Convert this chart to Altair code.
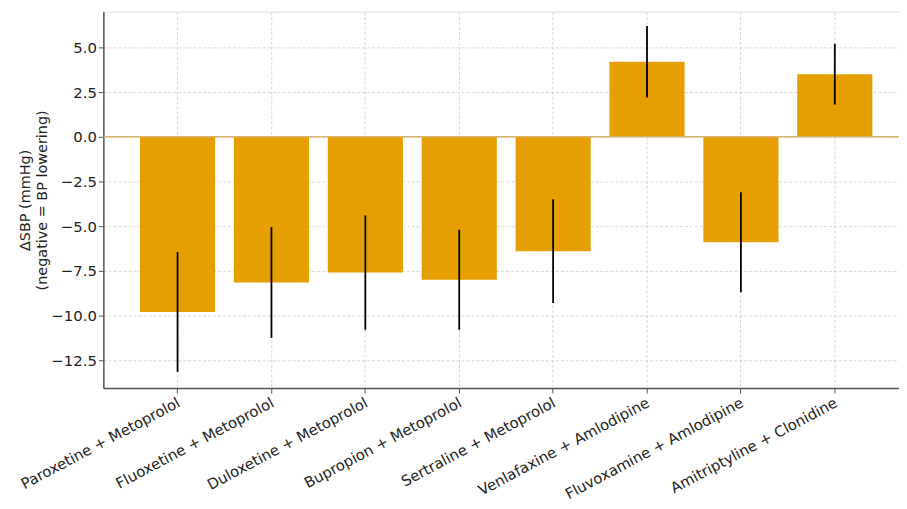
import altair as alt
import pandas as pd

combos = [
    "Paroxetine + Metoprolol",
    "Fluoxetine + Metoprolol",
    "Duloxetine + Metoprolol",
    "Bupropion + Metoprolol",
    "Sertraline + Metoprolol",
    "Venlafaxine + Amlodipine",
    "Fluvoxamine + Amlodipine",
    "Amitriptyline + Clonidine",
]
delta_sbp = [-9.8, -8.15, -7.6, -8.0, -6.4, 4.2, -5.9, 3.5]
err_sbp = [3.35, 3.1, 3.2, 2.8, 2.9, 2.0, 2.8, 1.7]
y_ticks = [-12.5, -10.0, -7.5, -5.0, -2.5, 0.0, 2.5, 5.0]

df = pd.DataFrame({"combo": combos, "delta": delta_sbp, "err": err_sbp})
df["lo"] = df["delta"] - df["err"]
df["hi"] = df["delta"] + df["err"]
zero_df = pd.DataFrame({"y": [0.0]})

FONT = "DejaVu Sans"
ydom = [-14.06, 7.0]

x_enc = alt.X(
    "combo:N",
    sort=combos,
    scale=alt.Scale(paddingInner=0.2, paddingOuter=0.337, align=0.579),
    axis=alt.Axis(
        title=None,
        labelAngle=-28,
        labelAlign="right",
        labelBaseline="top",
        labelPadding=2,
        labelOffset=-2,
        labelLimit=400,
        labelFont=FONT,
        labelFontSize=14.9,
        labelColor="#222222",
        tickSize=5,
        tickColor="#555555",
        tickWidth=1,
        domainColor="#555555",
        domainWidth=1.5,
        grid=True,
        gridColor="#cccccc",
        gridDash=[3, 2],
        gridWidth=0.8,
        bandPosition=0.5,
        labelOverlap=False,
    ),
)

y_axis = alt.Axis(
    title=["ΔSBP (mmHg)", "(negative = BP lowering)"],
    titleFont=FONT,
    titleFontSize=14.5,
    titleFontWeight="normal",
    titleColor="#222222",
    titlePadding=1,
    titleLineHeight=17,
    values=y_ticks,
    format=".1f",
    labelFont=FONT,
    labelFontSize=15,
    labelColor="#222222",
    labelPadding=2,
    tickSize=5,
    tickColor="#555555",
    domainColor="#555555",
    domainWidth=1.5,
    grid=True,
    gridColor="#cccccc",
    gridDash=[3, 2],
    gridWidth=0.8,
)

bars = alt.Chart(df).mark_bar(color="#E69F00").encode(
    x=x_enc,
    y=alt.Y("delta:Q", scale=alt.Scale(domain=ydom, nice=False, zero=False), axis=y_axis),
)

zero = alt.Chart(zero_df).mark_rule(color="#d9b46c", strokeWidth=1.3).encode(
    y=alt.Y("y:Q")
)

errs = alt.Chart(df).mark_rule(color="black", strokeWidth=1.8).encode(
    x=alt.X("combo:N", sort=combos),
    y=alt.Y("lo:Q"),
    y2="hi:Q",
)

chart = (
    alt.layer(bars, zero, errs)
    .properties(
        width=801,
        height=379,
        autosize=alt.AutoSizeParams(type="none"),
        padding={"left": 96, "top": 2, "right": 0, "bottom": 112},
    )
    .configure_view(stroke=None)
    .configure(background="white")
)

chart.save("out.html", embed_options={"renderer": "svg", "actions": False})
